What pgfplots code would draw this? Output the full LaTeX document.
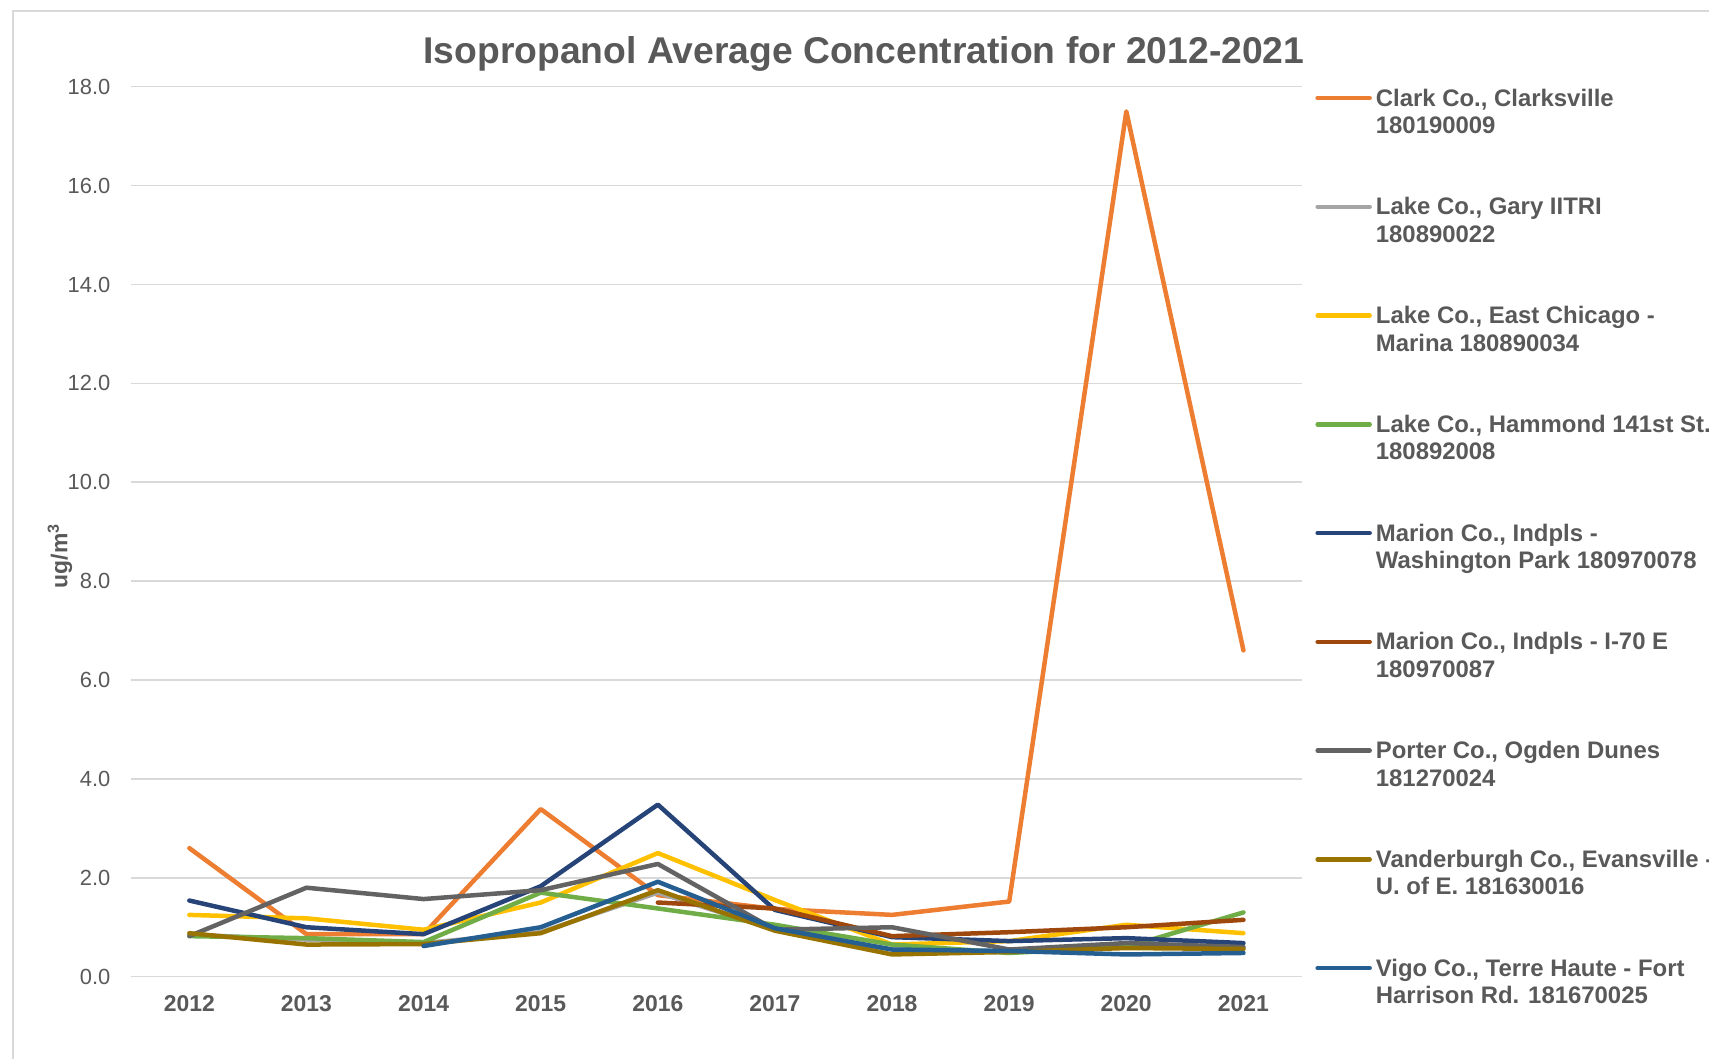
\documentclass[border=0pt]{standalone}
\usepackage{fontspec}
\setmainfont{Liberation Sans}
\usepackage{pgfplots}
\pgfplotsset{compat=1.18}

\definecolor{txt}{HTML}{595959}
\definecolor{gridc}{HTML}{D9D9D9}
\definecolor{cClark}{HTML}{ED7D31}
\definecolor{cGary}{HTML}{A5A5A5}
\definecolor{cEChi}{HTML}{FFC000}
\definecolor{cHamm}{HTML}{70AD47}
\definecolor{cWash}{HTML}{264478}
\definecolor{cISeventy}{HTML}{9E480E}
\definecolor{cPorter}{HTML}{636363}
\definecolor{cVand}{HTML}{997300}
\definecolor{cVigo}{HTML}{255E91}

\begin{document}
\begin{tikzpicture}
\useasboundingbox (0,0) rectangle (854.5bp,529.5bp);
\draw[gridc, line width=0.6bp] (6.5bp,-5bp) -- (6.5bp,524bp) -- (900bp,524bp);
\begin{axis}[
  at={(65.4bp,41.15bp)}, anchor=south west,
  scale only axis,
  width=585.6bp, height=445bp,
  xmin=2011.5, xmax=2021.5,
  ymin=0, ymax=18,
  xtick={2012,...,2021},
  xticklabels={2012,2013,2014,2015,2016,2017,2018,2019,2020,2021},
  ytick={0,2,...,18},
  /pgf/number format/assume math mode=true,
  yticklabel style={/pgf/number format/fixed, /pgf/number format/fixed zerofill, /pgf/number format/precision=1},
  yticklabel style={font=\fontsize{11}{13}\selectfont, text=txt, anchor=east, inner sep=0pt, xshift=-10bp},
  xticklabel style={font=\bfseries\fontsize{11.5}{13}\selectfont, text=txt, anchor=center, inner sep=0pt, yshift=-13.7bp},
  axis line style={draw=none},
  major tick length=0pt,
  ymajorgrids,
  grid style={gridc, line width=0.75bp},
  title={Isopropanol Average Concentration for 2012-2021},
  title style={at={(axis description cs:0.626,1.0229)}, anchor=center, yshift=0pt, font=\bfseries\fontsize{18.7}{22}\selectfont, text=txt},
  ylabel={ug/m\textsuperscript{3}},
  ylabel style={at={(axis description cs:-0.0605,0.4727)}, anchor=center, font=\bfseries\fontsize{11.5}{13}\selectfont, text=txt},
  every axis plot/.append style={line width=2.25bp, line join=round, line cap=round},
  legend style={at={(axis description cs:1.0111,1.004)}, anchor=north west,
    draw=none, fill=none, inner sep=0pt, row sep=25.9bp, column sep=0bp,
    font=\bfseries\fontsize{12}{13.8}\selectfont, text=txt,
    cells={anchor=west, align=left, inner sep=0pt, text height=23bp, text depth=4bp}},
  legend image code/.code={\draw[#1, line cap=round] (0bp,7.0bp) -- (26bp,7.0bp);},
]
% Clark Co., Clarksville
\addplot[cClark] coordinates {(2012,2.6) (2013,0.86) (2014,0.86) (2015,3.39) (2016,1.65) (2017,1.37) (2018,1.25) (2019,1.52) (2020,17.5) (2021,6.6)};
\addlegendentry{Clark Co., Clarksville\\180190009}
% Lake Co., Gary IITRI
\addplot[cGary] coordinates {(2012,0.85) (2013,0.75) (2014,0.68) (2015,0.9) (2016,1.7) (2017,0.95) (2018,0.55) (2019,0.5) (2020,0.62) (2021,0.58)};
\addlegendentry{Lake Co., Gary IITRI\\180890022}
% Lake Co., East Chicago - Marina
\addplot[cEChi] coordinates {(2012,1.25) (2013,1.18) (2014,0.95) (2015,1.5) (2016,2.5) (2017,1.55) (2018,0.65) (2019,0.72) (2020,1.05) (2021,0.88)};
\addlegendentry{Lake Co., East Chicago -\\Marina 180890034}
% Lake Co., Hammond
\addplot[cHamm] coordinates {(2012,0.82) (2013,0.78) (2014,0.7) (2015,1.7) (2016,1.38) (2017,1.05) (2018,0.65) (2019,0.48) (2020,0.6) (2021,1.3)};
\addlegendentry{Lake Co., Hammond 141st St.\\180892008}
% Marion Co., Washington Park
\addplot[cWash] coordinates {(2012,1.54) (2013,1.0) (2014,0.86) (2015,1.83) (2016,3.48) (2017,1.35) (2018,0.8) (2019,0.72) (2020,0.78) (2021,0.68)};
\addlegendentry{Marion Co., Indpls -\\Washington Park 180970078}
% Marion Co., I-70 E
\addplot[cISeventy] coordinates {(2016,1.5) (2017,1.38) (2018,0.82) (2019,0.9) (2020,1.0) (2021,1.15)};
\addlegendentry{Marion Co., Indpls - I-70 E\\180970087}
% Porter Co., Ogden Dunes
\addplot[cPorter] coordinates {(2012,0.82) (2013,1.8) (2014,1.57) (2015,1.75) (2016,2.28) (2017,0.95) (2018,1.0) (2019,0.55) (2020,0.68) (2021,0.6)};
\addlegendentry{Porter Co., Ogden Dunes\\181270024}
% Vanderburgh Co., Evansville
\addplot[cVand] coordinates {(2012,0.88) (2013,0.65) (2014,0.66) (2015,0.88) (2016,1.75) (2017,0.93) (2018,0.45) (2019,0.5) (2020,0.58) (2021,0.56)};
\addlegendentry{Vanderburgh Co., Evansville -\\U. of E. 181630016}
% Vigo Co., Terre Haute
\addplot[cVigo] coordinates {(2014,0.62) (2015,1.0) (2016,1.92) (2017,0.98) (2018,0.55) (2019,0.52) (2020,0.45) (2021,0.48)};
\addlegendentry{Vigo Co., Terre Haute - Fort\\Harrison Rd. 181670025}
\end{axis}
\end{tikzpicture}
\end{document}
